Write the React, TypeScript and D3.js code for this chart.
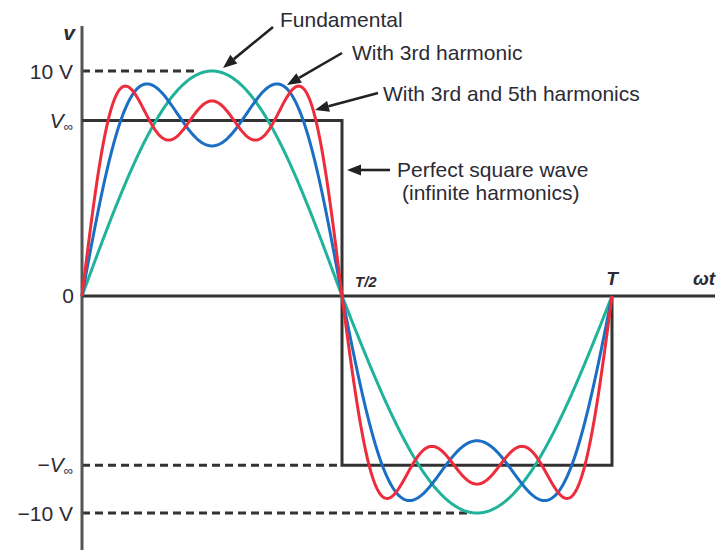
import React from "react";
import * as d3 from "d3";

// Odd harmonics of a square wave and their peak amplitudes (volts)
const harmonicOrders = [1, 3, 5];
const harmonicAmplitudes = [10, 3.33, 2];

// Partial sums shown: fundamental, +3rd, +3rd and 5th
const seriesNames = ["Fundamental", "With 3rd harmonic", "With 3rd and 5th harmonics"];
const seriesTermCounts = [1, 2, 3];

// Square wave level V∞ (volts)
const squareLevel = 7.8;

const W = 717;
const H = 550;

const x = d3.scaleLinear().domain([0, 0.5, 1]).range([82, 342, 612]);
const y = d3.scaleLinear().domain([-10, 0, 10]).range([513, 296, 71]);

const colors = ["#20b39a", "#1a6fc4", "#ee2d3c"];
const ink = "#2b2b35";
const lineInk = "#333";
const font = "'Liberation Sans', Arial, sans-serif";

const samples = d3.range(0, 601).map((i) => i / 600);

function partialSum(t: number, terms: number) {
  let v = 0;
  for (let k = 0; k < terms; k++) {
    v += harmonicAmplitudes[k] * Math.sin(2 * Math.PI * harmonicOrders[k] * t);
  }
  return v;
}

const lineGen = d3
  .line<[number, number]>()
  .x((d) => x(d[0]))
  .y((d) => y(d[1]));

function Arrow({ x1, y1, x2, y2 }: { x1: number; y1: number; x2: number; y2: number }) {
  const ang = Math.atan2(y2 - y1, x2 - x1);
  const len = 14;
  const hw = 5.5;
  const bx = x2 - len * Math.cos(ang);
  const by = y2 - len * Math.sin(ang);
  const px = -Math.sin(ang) * hw;
  const py = Math.cos(ang) * hw;
  return (
    <g>
      <line x1={x1} y1={y1} x2={bx} y2={by} stroke="#222" strokeWidth={2.6} />
      <polygon points={`${x2},${y2} ${bx + px},${by + py} ${bx - px},${by - py}`} fill="#222" />
    </g>
  );
}

export default function App() {
  const squarePath = [
    `M${x(0)},${y(squareLevel)}`,
    `L${x(0.5)},${y(squareLevel)}`,
    `L${x(0.5)},${y(-squareLevel)}`,
    `L${x(1)},${y(-squareLevel)}`,
    `L${x(1)},${y(0)}`,
  ].join(" ");

  return (
    <svg
      width={W}
      height={H}
      style={{ position: "absolute", left: 0, top: 0, background: "#fff" }}
      fontFamily={font}
    >
      {/* dashed guides */}
      <g stroke={lineInk} strokeWidth={2.8} strokeDasharray="8 5" fill="none">
        <line x1={x(0)} x2={x(0.225)} y1={y(10)} y2={y(10)} />
        <line x1={x(0)} x2={x(0.5)} y1={y(-squareLevel)} y2={y(-squareLevel)} />
        <line x1={x(0)} x2={x(0.737)} y1={y(-10)} y2={y(-10)} />
      </g>

      {/* axes */}
      <line x1={x(0)} x2={x(0)} y1={26} y2={H} stroke="#555" strokeWidth={3} />
      <line x1={x(0)} x2={715} y1={y(0)} y2={y(0)} stroke={lineInk} strokeWidth={3} />

      {/* perfect square wave */}
      <path d={squarePath} fill="none" stroke={lineInk} strokeWidth={3} />

      {/* harmonic partial sums */}
      {seriesTermCounts.map((n, i) => (
        <path
          key={seriesNames[i]}
          d={lineGen(samples.map((t) => [t, partialSum(t, n)] as [number, number])) || ""}
          fill="none"
          stroke={colors[i]}
          strokeWidth={3}
        />
      ))}

      {/* vertical axis labels */}
      <g fill={ink} fontSize={21} textAnchor="end">
        <text x={75} y={40} fontStyle="italic" fontWeight="bold" fontSize={21}>v</text>
        <text x={73} y={y(10) + 8}>10 V</text>
        <text x={73} y={y(squareLevel) + 7}>
          <tspan fontStyle="italic">V</tspan>
          <tspan fontSize={13} dy={3}>∞</tspan>
        </text>
        <text x={74} y={y(0) + 7}>0</text>
        <text x={73} y={y(-squareLevel) + 7}>
          −<tspan fontStyle="italic">V</tspan>
          <tspan fontSize={13} dy={3}>∞</tspan>
        </text>
        <text x={73} y={y(-10) + 8}>−10 V</text>
      </g>

      {/* horizontal axis labels */}
      <g fill={ink} fontStyle="italic" fontWeight="bold">
        <text x={355} y={287} fontSize={15}>T/2</text>
        <text x={x(1)} y={285} fontSize={19} textAnchor="middle">T</text>
        <text x={693} y={285} fontSize={19}>ωt</text>
      </g>

      {/* annotations */}
      <g fill={ink} fontSize={21}>
        <text x={280} y={27}>{seriesNames[0]}</text>
        <text x={352} y={60}>{seriesNames[1]}</text>
        <text x={383} y={101}>{seriesNames[2]}</text>
        <text x={397} y={177}>Perfect square wave</text>
        <text x={402} y={200}>(infinite harmonics)</text>
      </g>
      <Arrow x1={273} y1={27} x2={223} y2={68} />
      <Arrow x1={342} y1={53} x2={287} y2={85} />
      <Arrow x1={378} y1={93} x2={315} y2={110} />
      <Arrow x1={390} y1={170} x2={347} y2={170} />
    </svg>
  );
}
